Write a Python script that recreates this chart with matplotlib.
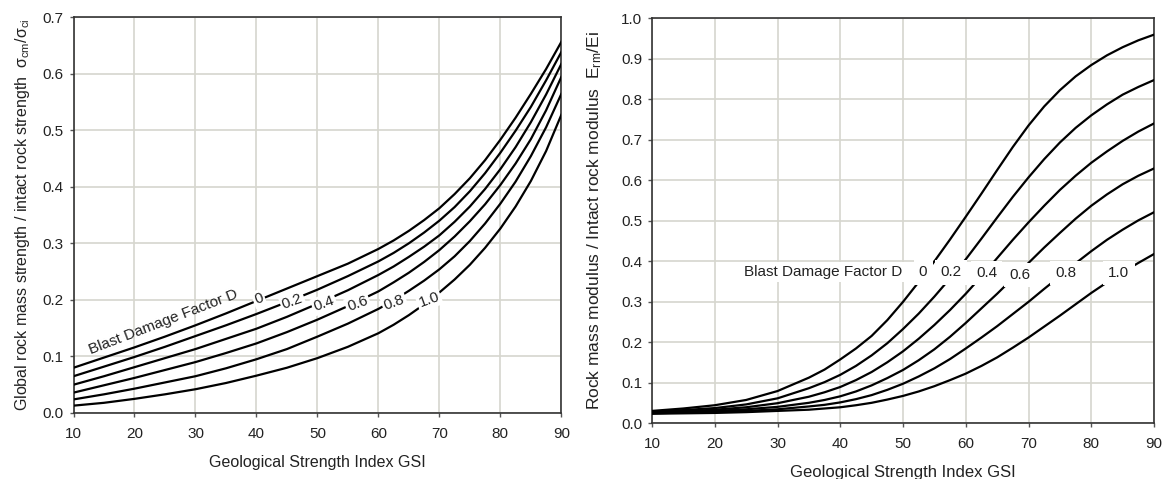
import matplotlib
matplotlib.use("Agg")
import matplotlib.pyplot as plt

plt.rcParams['font.family'] = ['Liberation Sans', 'DejaVu Sans']
plt.rcParams['mathtext.fontset'] = 'custom'
plt.rcParams['mathtext.rm'] = 'Liberation Sans'
plt.rcParams['mathtext.it'] = 'Liberation Sans'

# Global strength ratio sigma_cm / sigma_ci against GSI, one list per blast damage factor D
gsi_strength = [10, 15, 20, 25, 30, 35, 40, 45, 50, 55, 60, 62.5, 65, 67.5,
                70, 72.5, 75, 77.5, 80, 82.5, 85, 87.5, 90]
strength_d00 = [0.080, 0.098, 0.116, 0.135, 0.155, 0.176, 0.198, 0.220, 0.242, 0.264, 0.290, 0.305, 0.322, 0.341,
                0.362, 0.387, 0.415, 0.447, 0.483, 0.522, 0.564, 0.608, 0.656]
strength_d02 = [0.065, 0.082, 0.099, 0.117, 0.136, 0.155, 0.175, 0.196, 0.218, 0.242, 0.268, 0.283, 0.300, 0.319,
                0.340, 0.364, 0.392, 0.424, 0.460, 0.499, 0.541, 0.588, 0.638]
strength_d04 = [0.050, 0.065, 0.081, 0.097, 0.113, 0.131, 0.149, 0.170, 0.193, 0.217, 0.244, 0.259, 0.276, 0.294,
                0.314, 0.338, 0.365, 0.396, 0.431, 0.470, 0.514, 0.563, 0.617]
strength_d06 = [0.036, 0.049, 0.062, 0.076, 0.090, 0.106, 0.123, 0.143, 0.165, 0.189, 0.215, 0.231, 0.248, 0.267,
                0.288, 0.312, 0.339, 0.369, 0.403, 0.441, 0.484, 0.535, 0.594]
strength_d08 = [0.024, 0.033, 0.043, 0.054, 0.065, 0.079, 0.095, 0.113, 0.135, 0.158, 0.184, 0.199, 0.216, 0.234,
                0.254, 0.277, 0.304, 0.335, 0.370, 0.409, 0.454, 0.505, 0.564]
strength_d10 = [0.013, 0.018, 0.025, 0.033, 0.042, 0.053, 0.066, 0.080, 0.097, 0.117, 0.141, 0.156, 0.173, 0.192,
                0.213, 0.236, 0.262, 0.292, 0.326, 0.365, 0.410, 0.463, 0.527]

# Modulus ratio Erm / Ei against GSI
gsi_modulus = [10, 15, 20, 25, 30, 35, 37.5, 40, 42.5, 45, 47.5, 50, 52.5, 55, 57.5, 60,
               62.5, 65, 67.5, 70, 72.5, 75, 77.5, 80, 82.5, 85, 87.5, 90]
modulus_d00 = [0.031, 0.037, 0.045, 0.058, 0.080, 0.113, 0.133, 0.158, 0.185, 0.216, 0.255, 0.300, 0.349, 0.400, 0.454, 0.510,
               0.567, 0.625, 0.682, 0.735, 0.782, 0.822, 0.856, 0.884, 0.908, 0.928, 0.945, 0.959]
modulus_d02 = [0.029, 0.033, 0.038, 0.047, 0.062, 0.087, 0.102, 0.120, 0.142, 0.168, 0.198, 0.233, 0.271, 0.313, 0.358, 0.405,
               0.456, 0.508, 0.559, 0.607, 0.652, 0.693, 0.729, 0.760, 0.787, 0.811, 0.830, 0.847]
modulus_d04 = [0.027, 0.030, 0.034, 0.040, 0.050, 0.066, 0.077, 0.090, 0.107, 0.127, 0.151, 0.178, 0.209, 0.243, 0.280, 0.320,
               0.363, 0.408, 0.453, 0.496, 0.537, 0.576, 0.611, 0.643, 0.671, 0.697, 0.720, 0.740]
modulus_d06 = [0.026, 0.028, 0.031, 0.035, 0.041, 0.051, 0.058, 0.067, 0.079, 0.094, 0.112, 0.132, 0.156, 0.183, 0.214, 0.248,
               0.284, 0.320, 0.358, 0.396, 0.434, 0.470, 0.505, 0.537, 0.565, 0.590, 0.611, 0.629]
modulus_d08 = [0.025, 0.027, 0.029, 0.031, 0.035, 0.042, 0.046, 0.052, 0.060, 0.070, 0.083, 0.098, 0.116, 0.136, 0.159, 0.185,
               0.212, 0.240, 0.270, 0.300, 0.332, 0.363, 0.395, 0.425, 0.453, 0.478, 0.501, 0.521]
modulus_d10 = [0.024, 0.025, 0.026, 0.028, 0.031, 0.034, 0.037, 0.040, 0.045, 0.051, 0.059, 0.068, 0.079, 0.092, 0.107, 0.123,
               0.142, 0.163, 0.187, 0.212, 0.239, 0.266, 0.294, 0.322, 0.348, 0.373, 0.396, 0.418]

d_labels = ['0', '0.2', '0.4', '0.6', '0.8', '1.0']
strength_curves = [strength_d00, strength_d02, strength_d04, strength_d06, strength_d08, strength_d10]
modulus_curves = [modulus_d00, modulus_d02, modulus_d04, modulus_d06, modulus_d08, modulus_d10]

# where the D values are written on each panel (GSI, ratio)
strength_label_gsi = [40.4, 45.9, 51.1, 56.6, 62.6, 68.3]
strength_label_val = [0.202, 0.197, 0.193, 0.193, 0.195, 0.200]
modulus_label_gsi = [53.2, 57.7, 63.3, 68.6, 75.9, 84.4]
modulus_label_val = [0.373, 0.373, 0.371, 0.366, 0.371, 0.371]

grid_col = '#d6d6ce'
txt_col = '#222222'

fig = plt.figure(figsize=(11.67, 4.79), dpi=100)
ax1 = fig.add_axes([0.063, 0.1378, 0.418, 0.8267])
ax2 = fig.add_axes([0.5587, 0.1159, 0.4302, 0.8465])

def style_axes(ax, ymax):
    n = int(round(ymax * 10))
    ax.set_xlim(10, 90)
    ax.set_ylim(0, ymax)
    ax.set_xticks(range(10, 91, 10))
    ax.set_yticks([i / 10 for i in range(n + 1)])
    ax.set_yticklabels([f'{i / 10:.1f}' for i in range(n + 1)])
    ax.grid(True, color=grid_col, lw=1.2)
    ax.set_axisbelow(True)
    for s in ax.spines.values():
        s.set_color('#333333')
        s.set_linewidth(1.2)
    ax.tick_params(direction='out', length=3, width=1, color='#555555',
                   labelsize=11, labelcolor=txt_col)
    ax.tick_params(axis='x', pad=7)
    ax.tick_params(axis='y', pad=4)

# left panel
for vals in strength_curves:
    ax1.plot(gsi_strength, vals, color='black', lw=1.6, zorder=3, solid_joinstyle='round')
style_axes(ax1, 0.7)
ax1.text(24.8, 0.160, 'Blast Damage Factor D', fontsize=11, rotation=21,
         ha='center', va='center', color=txt_col, zorder=4)
for g, v, lab in zip(strength_label_gsi, strength_label_val, d_labels):
    ax1.text(g, v, lab, fontsize=11, rotation=20, ha='center', va='center', color=txt_col,
             bbox=dict(boxstyle='square,pad=0.12', fc='white', ec='none'), zorder=4)
ax1.set_xlabel('Geological Strength Index GSI', fontsize=11.5, labelpad=10, color=txt_col)
ax1.set_ylabel(r'Global rock mass strength / intact rock strength  σ$_{\rm cm}$/σ$_{\rm ci}$',
               fontsize=11.5, labelpad=8, color=txt_col)

# right panel
for vals in modulus_curves:
    ax2.plot(gsi_modulus, vals, color='black', lw=1.6, zorder=3, solid_joinstyle='round')
style_axes(ax2, 1.0)
ax2.text(49.9, 0.373, 'Blast Damage Factor D', fontsize=11, ha='right', va='center',
         color=txt_col, bbox=dict(boxstyle='square,pad=0.2', fc='white', ec='none'), zorder=4)
for g, v, lab in zip(modulus_label_gsi, modulus_label_val, d_labels):
    ax2.text(g, v, lab, fontsize=11, ha='center', va='center', color=txt_col,
             bbox=dict(boxstyle='square,pad=0.35', fc='white', ec='none'), zorder=4)
ax2.set_xlabel('Geological Strength Index GSI', fontsize=12, labelpad=10, color=txt_col)
ax2.set_ylabel(r'Rock mass modulus / Intact rock modulus  E$_{\rm rm}$/Ei',
               fontsize=12.5, labelpad=12, color=txt_col)

fig.savefig('out.png', dpi=100)
